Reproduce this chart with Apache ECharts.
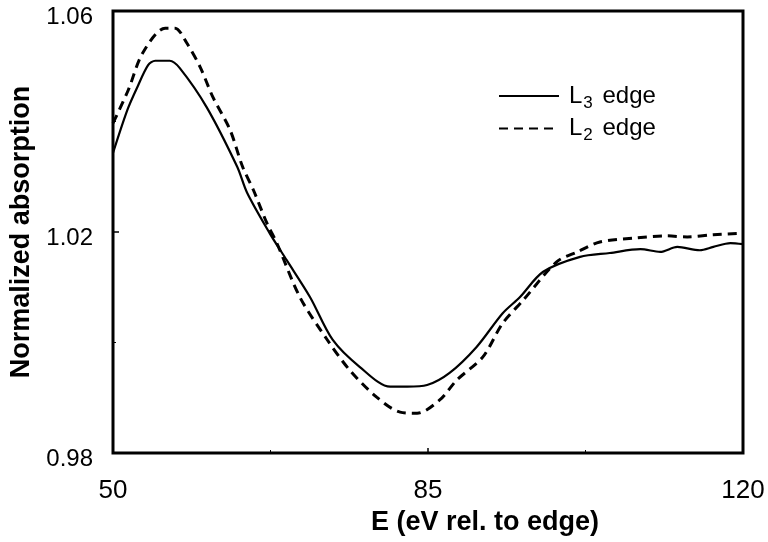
<!DOCTYPE html>
<html>
<head>
<meta charset="utf-8">
<script src="https://cdn.jsdelivr.net/npm/echarts@6/dist/echarts.min.js"></script>
<style>
  html, body { margin: 0; padding: 0; background: #fff; }
  #chart { width: 768px; height: 542px; }
</style>
</head>
<body>
<div id="chart"></div>
<script>
// L3 edge (solid) — energy (eV rel. to edge) and normalized absorption
const l3Energy = [50, 51.6, 52.7, 53.9, 54.7, 56.3, 57.4, 60.4, 63.8, 64.9, 67.4, 69.3, 71.9, 74.4, 77.4, 80.8, 82.7, 84.9, 87.4, 90.4, 93.3, 95.2, 97.8, 101.9, 105.2, 108.6, 110.8, 112.7, 115.2, 116.7, 118.6, 120];
const l3Values = [1.0343, 1.0421, 1.0462, 1.0502, 1.0510, 1.0510, 1.0497, 1.0426, 1.0318, 1.0271, 1.0198, 1.0149, 1.0082, 1.0005, 0.9956, 0.9920, 0.9920, 0.9923, 0.9945, 0.9992, 1.0053, 1.0082, 1.0128, 1.0155, 1.0162, 1.0169, 1.0164, 1.0173, 1.0167, 1.0173, 1.0180, 1.0178];

// L2 edge (dashed)
const l2Energy = [50, 51.7, 53.3, 55.8, 56.9, 58.2, 59.7, 61.1, 63.0, 64.4, 65.6, 67.1, 68.2, 70.8, 73.8, 76.3, 79.3, 81.9, 83.8, 86.3, 88.2, 91.1, 93.3, 95.6, 99.3, 101.6, 104.1, 107.8, 111.6, 113.8, 116.7, 120];
const l2Values = [1.0397, 1.0457, 1.0524, 1.0569, 1.0569, 1.0542, 1.0498, 1.0444, 1.0385, 1.0318, 1.0276, 1.0216, 1.0180, 1.0081, 1.0005, 0.9950, 0.9901, 0.9874, 0.9872, 0.9896, 0.9932, 0.9974, 1.0035, 1.0077, 1.0146, 1.0164, 1.0182, 1.0189, 1.0193, 1.0191, 1.0195, 1.0198];

// Axis ticks and labels
const xLabelTicks = [50, 85, 120];
const xMinorTicks = [67.5, 102.5];
const yLabelTicks = [0.98, 1.02, 1.06];
const yMinorTicks = [1.00, 1.04];

const seriesNames = ['L3 edge', 'L2 edge'];
const xTitle = 'E (eV rel. to edge)';
const yTitle = 'Normalized absorption';

const FONT = "'Liberation Sans', Arial, Helvetica, sans-serif";

const zip = (xs, ys) => xs.map((x, i) => [x, ys[i]]);

const chart = echarts.init(document.getElementById('chart'), null, { renderer: 'canvas' });

const hiddenAxisBase = {
  type: 'value',
  axisLine: { show: false },
  axisLabel: { show: false },
  splitLine: { show: false }
};

chart.setOption({
  backgroundColor: '#ffffff',
  animation: false,
  grid: {
    left: 113, right: 25, top: 11, bottom: 89,
    show: true, borderColor: '#000', borderWidth: 3, backgroundColor: 'transparent'
  },
  legend: {
    orient: 'vertical',
    left: 498, top: 84, padding: 0,
    itemWidth: 60, itemHeight: 14, itemGap: 5,
    data: seriesNames,
    itemStyle: { opacity: 0 },
    formatter: name => name.replace(/^L(\d) (.*)$/, '{t|L}{s|$1}{t| $2}'),
    textStyle: {
      color: '#000',
      padding: [0, 0, 0, 5],
      rich: {
        t: { fontFamily: FONT, fontSize: 24, color: '#000' },
        s: { fontFamily: FONT, fontSize: 17, color: '#000', padding: [14, 3, 0, 1] }
      }
    }
  },
  xAxis: [
    {
      type: 'value', min: 50, max: 120, interval: 35,
      name: xTitle, nameLocation: 'middle', nameGap: 50,
      nameTextStyle: { fontFamily: FONT, fontWeight: 'bold', fontSize: 27, color: '#000', padding: [0, 0, 0, 114] },
      axisLine: { show: false },
      axisTick: { show: true, inside: true, length: 5, lineStyle: { color: '#000', width: 1.5 } },
      axisLabel: { show: true, margin: 25, fontFamily: FONT, fontSize: 26, color: '#000', customValues: xLabelTicks },
      splitLine: { show: false }
    },
    Object.assign({}, hiddenAxisBase, {
      min: 50, max: 120, position: 'bottom',
      axisTick: { show: true, inside: true, length: 3, customValues: xMinorTicks, lineStyle: { color: '#000', width: 1 } }
    })
  ],
  yAxis: [
    {
      type: 'value', min: 0.98, max: 1.06, interval: 0.02,
      name: yTitle, nameLocation: 'middle', nameGap: 76, nameRotate: 90,
      nameTextStyle: { fontFamily: FONT, fontWeight: 'bold', fontSize: 27, color: '#000' },
      axisLine: { show: false },
      axisTick: { show: true, inside: true, length: 6, customValues: yLabelTicks, lineStyle: { color: '#000', width: 1.5 } },
      axisLabel: {
        show: true, margin: 20, color: '#000',
        customValues: yLabelTicks,
        formatter: v => '{v|' + v.toFixed(2) + '}',
        rich: { v: { fontFamily: FONT, fontSize: 24, color: '#000', padding: [12, 0, 0, 0] } }
      },
      splitLine: { show: false }
    },
    Object.assign({}, hiddenAxisBase, {
      min: 0.98, max: 1.06, position: 'left',
      axisTick: { show: true, inside: true, length: 3, customValues: yMinorTicks, lineStyle: { color: '#000', width: 1 } }
    })
  ],
  series: [
    {
      name: seriesNames[0], type: 'line', data: zip(l3Energy, l3Values),
      xAxisIndex: 0, yAxisIndex: 0,
      symbol: 'none', smooth: 0.3,
      lineStyle: { color: '#000', width: 2.2, type: 'solid' },
      itemStyle: { color: '#000' }
    },
    {
      name: seriesNames[1], type: 'line', data: zip(l2Energy, l2Values),
      xAxisIndex: 0, yAxisIndex: 0,
      symbol: 'none', smooth: 0.3,
      lineStyle: { color: '#000', width: 3, type: [9, 6] },
      itemStyle: { color: '#000' }
    }
  ]
});
</script>
</body>
</html>
